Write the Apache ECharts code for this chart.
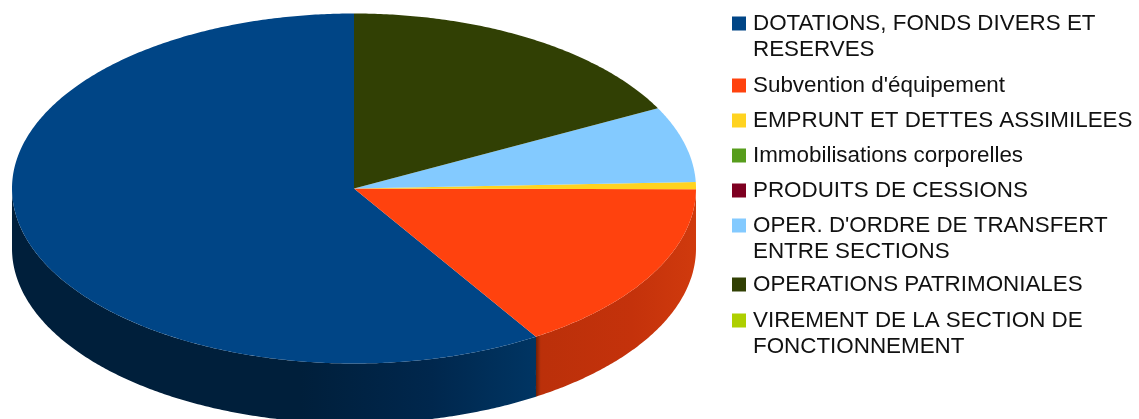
<!DOCTYPE html>
<html>
    <head>
        <meta charset="utf-8">
        <title>Camembert</title>
        <style>
            html, body { margin: 0; background: #fff; }
            #chart1 { width: 1139px; height: 419px; }
        </style>
    </head>
    <body>
        <div id="chart1"></div>
    </body>
    <script src="https://cdn.jsdelivr.net/npm/echarts@6/dist/echarts.min.js"></script>
    <script type="text/javascript">
        // slices, in percent
        const categories = [
            'DOTATIONS, FONDS DIVERS ET\nRESERVES',
            "Subvention d'équipement",
            'EMPRUNT ET DETTES ASSIMILEES',
            'Immobilisations corporelles',
            'PRODUITS DE CESSIONS',
            "OPER. D'ORDRE DE TRANSFERT\nENTRE SECTIONS",
            'OPERATIONS PATRIMONIALES',
            'VIREMENT DE LA SECTION DE\nFONCTIONNEMENT'
        ];
        const values = [58.9, 16.0, 0.65, 0, 0, 7.0, 17.4, 0];

        const colors = ['#004586', '#ff420e', '#ffd320', '#579d1c', '#7e0021', '#83caff', '#314004', '#aecf00'];
        // the legend box starts above the square because the text is taller than it
        const legendTops = [11, 72.5, 107.5, 142.5, 177.5, 213, 271.5, 308];
        const depth = 60;

        // side wall shading, only the two slices that reach the front
        const wallStops = {
            0: [[0, '#001f3b'], [0.55, '#001f3b'], [0.8, '#00274d'], [1, '#003563']],
            1: [[0, '#6e2006'], [0.03, '#bb300a'], [0.6, '#c4320b'], [1, '#d03a0d']]
        };

        // slices run counter-clockwise from the top
        const total = values.reduce((a, b) => a + b, 0);
        let sum = 0;
        const angles = values.map((v) => {
            const start = sum / total * 360;
            sum += v;
            return [start, sum / total * 360];
        });

        function arc(api, from, to, dy) {
            const pts = [];
            const n = Math.max(1, Math.ceil((to - from) * 2));
            for (let k = 0; k <= n; k++) {
                const a = (from + (to - from) * k / n) * Math.PI / 180;
                const p = api.coord([-Math.sin(a), Math.cos(a)]);
                pts.push([p[0], p[1] + dy]);
            }
            return pts;
        }

        function renderSlice(i) {
            return function (params, api) {
                const from = api.value(0), to = api.value(1);
                if (to <= from) return { type: 'group', children: [] };
                const children = [];
                // wall, front half of the ellipse only
                const wallFrom = Math.max(from, 90), wallTo = Math.min(to, 270);
                if (wallTo > wallFrom) {
                    const top = arc(api, wallFrom, wallTo, 0);
                    const bottom = arc(api, wallFrom, wallTo, depth).reverse();
                    const stops = wallStops[i] || [[0, colors[i]], [1, colors[i]]];
                    children.push({
                        type: 'polygon',
                        shape: { points: top.concat(bottom) },
                        style: {
                            fill: new echarts.graphic.LinearGradient(0, 0, 1, 0,
                                stops.map((s) => ({ offset: s[0], color: s[1] })))
                        },
                        z2: 1
                    });
                }
                children.push({
                    type: 'polygon',
                    shape: { points: [api.coord([0, 0])].concat(arc(api, from, to, 0)) },
                    style: { fill: colors[i] },
                    z2: 2
                });
                return { type: 'group', children: children };
            };
        }

        let myChart1 = echarts.init(document.getElementById('chart1'));

        myChart1.setOption({
            animation: false,
            backgroundColor: '#fff',
            color: colors,
            grid: { left: 12, top: 13.5, width: 684, height: 350 },
            xAxis: { type: 'value', min: -1, max: 1, show: false },
            yAxis: { type: 'value', min: -1, max: 1, show: false },
            // one legend per entry: the square stays on the first line of two-line names
            legend: categories.map((name, i) => {
                const twoLines = name.indexOf('\n') >= 0;
                return {
                    data: [name],
                    left: 732,
                    top: legendTops[i],
                    padding: 0,
                    orient: 'vertical',
                    selectedMode: false,
                    itemWidth: 14,
                    itemHeight: twoLines ? 41 : 14,
                    itemGap: 0,
                    icon: twoLines ? 'path://M0 0H14V14H0ZM0 41H14' : 'rect',
                    textStyle: {
                        fontFamily: 'Liberation Sans',
                        fontSize: 22.4,
                        lineHeight: 26,
                        color: '#111',
                        padding: [0, 0, 0, 2]
                    }
                };
            }),
            series: categories.map((name, i) => ({
                name: name,
                type: 'custom',
                coordinateSystem: 'cartesian2d',
                silent: true,
                itemStyle: { color: colors[i] },
                encode: { x: 0, y: 1 },
                data: [angles[i]],
                renderItem: renderSlice(i)
            }))
        });
    </script>
</html>
